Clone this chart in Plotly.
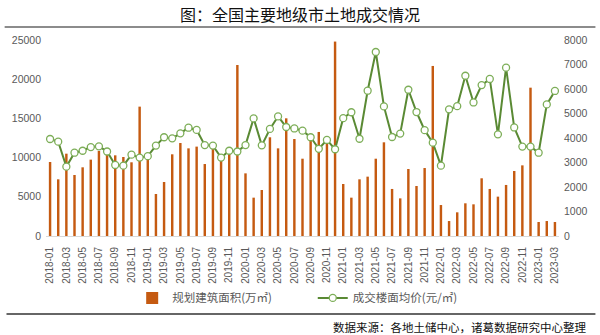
import plotly.graph_objects as go

months = [f"{y}-{m:02d}" for y in range(2018, 2024) for m in range(1, 13)][:63]

area = [9440, 7230, 10500, 7780, 8760, 9740, 10840, 10330, 10290, 10080, 9400, 16500,
        9900, 5360, 6890, 10420, 11860, 11180, 11400, 9180, 11310, 9570, 10550, 21810,
        7990, 4890, 5870, 12590, 11180, 15010, 12370, 9860, 13010, 13270, 11820, 24800,
        6630, 4890, 7230, 7570, 9860, 11950, 6000, 4800, 8550, 6380, 8670, 21690,
        3950, 1910, 3020, 4170, 4040, 7360, 6000, 5020, 6510, 8290, 9010, 18920,
        1790, 1910, 1790]

price = [3960, 3850, 2830, 3400, 3480, 3630, 3660, 3450, 2900, 2870, 3320, 3200,
         3260, 3690, 4030, 3985, 4190, 4420, 4330, 3710, 3690, 3200, 3480, 3450,
         3710, 4800, 3700, 4370, 4880, 4450, 4390, 4300, 4030, 3560, 3920, 3540,
         4810, 5050, 3970, 5930, 7510, 5290, 4040, 4180, 5970, 5060, 4320, 3810,
         2870, 5170, 5300, 6540, 5450, 6160, 6410, 4150, 6870, 4430, 3650, 3650,
         3400, 5370, 5920]

left_ticks = [0, 5000, 10000, 15000, 20000, 25000]
left_labels = ["0", "5000", "10000", "15000", "20000", "25000"]
right_ticks = [0, 1000, 2000, 3000, 4000, 5000, 6000, 7000, 8000]
right_labels = ["0", "1000", "2000", "3000", "4000", "5000", "6000", "7000", "8000"]

FONT = "Noto Sans CJK SC"
NUMFONT = "Liberation Sans"
GRAY = "#595959"

fig = go.Figure()
fig.add_trace(go.Bar(
    x=months, y=area, name="规划建筑面积(万㎡)",
    marker=dict(color="#C55A11", line=dict(width=0)), width=0.3,
    legend="legend", showlegend=True,
))
fig.add_trace(go.Scatter(
    x=months, y=price, name="成交楼面均价(元/㎡)", yaxis="y2", mode="lines+markers",
    line=dict(color="#5A8A34", width=2),
    marker=dict(symbol="circle", size=7, color="white", line=dict(color="#7DAE58", width=1.3)),
    legend="legend2", showlegend=True,
))

fig.update_layout(
    width=600, height=335,
    margin=dict(l=42, r=37, t=40, b=99),
    paper_bgcolor="white", plot_bgcolor="white",
    showlegend=True,
    font=dict(family=FONT, color=GRAY, size=10),
    title=dict(text="图：全国主要地级市土地成交情况", x=0.5, xref="container", xanchor="center",
               y=1 - 15 / 335, yref="container", yanchor="middle",
               font=dict(family=FONT, size=16, color="#111111", weight="normal")),
    xaxis=dict(type="category", categoryorder="array", categoryarray=months,
               range=[-0.5, 62.5], tickmode="array", tickvals=months[::2], ticktext=months[::2],
               tickangle=-90, tickfont=dict(size=10, color=GRAY, family=NUMFONT),
               showline=True, linecolor="#D9D9D9", linewidth=1, showgrid=False,
               ticks="", ticklabelstandoff=6),
    yaxis=dict(range=[0, 25000], tickmode="array", tickvals=left_ticks, ticktext=left_labels,
               showgrid=False, zeroline=False,
               tickfont=dict(size=10.5, color=GRAY, family=NUMFONT), ticks="", ticklabelstandoff=4),
    yaxis2=dict(range=[0, 8000], tickmode="array", tickvals=right_ticks, ticktext=right_labels,
                overlaying="y", side="right", showgrid=False, zeroline=False,
                tickfont=dict(size=10.5, color=GRAY, family=NUMFONT), ticks="", ticklabelstandoff=4),
    bargap=0.7,
    legend=dict(orientation="h", x=0.168, xanchor="left", y=-0.316, yanchor="middle",
                font=dict(size=11.5, color=GRAY, family=FONT), bgcolor="rgba(0,0,0,0)"),
    legend2=dict(orientation="h", x=0.52, xanchor="left", y=-0.316, yanchor="middle",
                 font=dict(size=11.5, color=GRAY, family=FONT), bgcolor="rgba(0,0,0,0)"),
    shapes=[
        dict(type="line", xref="paper", yref="paper", x0=-0.0806, x1=1.071,
             y0=(236 - 27) / 196, y1=(236 - 27) / 196, line=dict(color="#8C8C8C", width=2)),
        dict(type="line", xref="paper", yref="paper", x0=-0.077, x1=1.071,
             y0=(236 - 314) / 196, y1=(236 - 314) / 196, line=dict(color="#333333", width=1.5)),
    ],
    annotations=[
        dict(text="数据来源：各地土储中心，诸葛数据研究中心整理", xref="paper", yref="paper",
             x=(592 - 42) / 521, xanchor="right", y=(236 - 327) / 196, yanchor="middle",
             showarrow=False, font=dict(family=FONT, size=11.5, color="#111111")),
    ],
)

fig.write_html("out.html")
